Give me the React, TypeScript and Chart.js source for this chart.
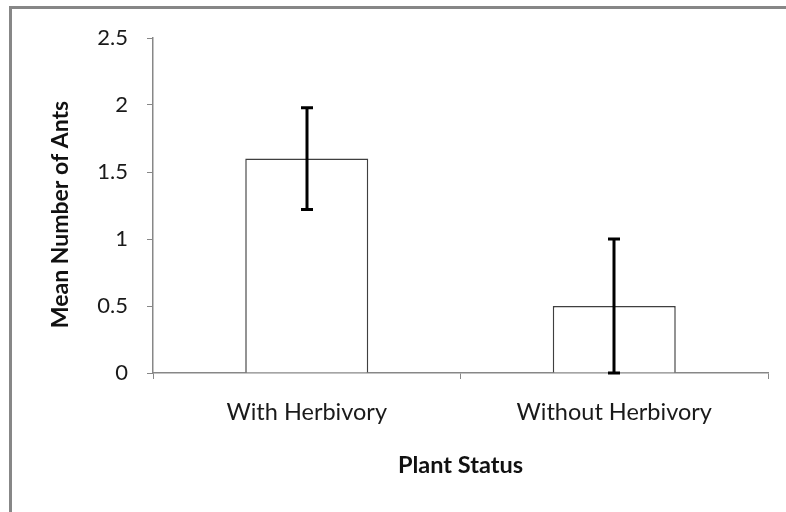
import React, { useEffect, useRef } from "react";
import { Chart, registerables } from "chart.js";

Chart.register(...registerables);

const categories = ["With Herbivory", "Without Herbivory"];
const meanAnts = [1.6, 0.5];
const errorAnts = [0.38, 0.5];
const yTicks = [0, 0.5, 1, 1.5, 2, 2.5];
const yTitle = "Mean Number of Ants";
const xTitle = "Plant Status";

const FONT = "Lato, 'DejaVu Sans', sans-serif";

const framePlugin = {
  id: "frame",
  beforeDraw(chart: any) {
    const ctx = chart.ctx;
    ctx.save();
    ctx.strokeStyle = "#878787";
    ctx.lineWidth = 3;
    ctx.beginPath();
    ctx.moveTo(10.5, 512);
    ctx.lineTo(10.5, 7.5);
    ctx.lineTo(786, 7.5);
    ctx.stroke();
    ctx.restore();
  },
  afterDraw(chart: any) {
    const ctx = chart.ctx;
    const area = chart.chartArea;
    ctx.save();
    ctx.fillStyle = "#111111";
    ctx.font = `bold 23px ${FONT}`;
    ctx.textAlign = "center";
    ctx.textBaseline = "middle";
    ctx.translate(61, (area.top + area.bottom) / 2 + 9);
    ctx.rotate(-Math.PI / 2);
    ctx.fillText(yTitle, 0, 0);
    ctx.restore();
  },
};

const errorBarPlugin = {
  id: "errorBars",
  afterDatasetsDraw(chart: any) {
    const ctx = chart.ctx;
    const meta = chart.getDatasetMeta(0);
    const y = chart.scales.y;
    ctx.save();
    ctx.strokeStyle = "#000000";
    ctx.lineWidth = 3;
    meta.data.forEach((bar: any, i: number) => {
      const x = Math.round(bar.x);
      const hi = y.getPixelForValue(meanAnts[i] + errorAnts[i]);
      const lo = y.getPixelForValue(Math.max(0, meanAnts[i] - errorAnts[i]));
      ctx.beginPath();
      ctx.moveTo(x, hi);
      ctx.lineTo(x, lo);
      ctx.moveTo(x - 6, hi);
      ctx.lineTo(x + 6, hi);
      ctx.moveTo(x - 6, lo);
      ctx.lineTo(x + 6, lo);
      ctx.stroke();
    });
    ctx.restore();
  },
};

export default function App() {
  const ref = useRef<HTMLCanvasElement | null>(null);
  useEffect(() => {
    if (!ref.current) return;
    const chart = new Chart(ref.current, {
      type: "bar",
      data: {
        labels: categories,
        datasets: [
          {
            data: meanAnts,
            backgroundColor: "#ffffff",
            borderColor: "#3f3f3f",
            borderWidth: 1.5,
            barPercentage: 0.4,
            categoryPercentage: 1,
          },
        ],
      },
      options: {
        responsive: false,
        animation: false,
        layout: { padding: { top: 38, right: 18, left: 0, bottom: 0 } },
        plugins: { legend: { display: false }, tooltip: { enabled: false } },
        scales: {
          x: {
            afterFit: (s: any) => {
              s.height = 139;
            },
            grid: {
              drawOnChartArea: false,
              drawTicks: true,
              tickLength: 6,
              color: "#878787",
              offset: true,
            },
            border: { display: true, color: "#878787", width: 1.5 },
            ticks: {
              color: "#1a1a1a",
              font: { family: FONT, size: 23.5 },
              padding: 19,
              maxRotation: 0,
            },
            title: {
              display: true,
              text: xTitle,
              color: "#111111",
              font: { family: FONT, size: 23.5, weight: "bold" },
              padding: { top: 0, bottom: 32 },
            },
          },
          y: {
            min: 0,
            max: 2.5,
            afterFit: (s: any) => {
              s.width = 153;
            },
            afterBuildTicks: (s: any) => {
              s.ticks = yTicks.map((v) => ({ value: v }));
            },
            grid: {
              drawOnChartArea: false,
              drawTicks: true,
              tickLength: 6,
              color: "#878787",
            },
            border: { display: true, color: "#878787", width: 1.5 },
            ticks: {
              color: "#1a1a1a",
              font: { family: FONT, size: 22 },
              padding: 19,
              callback: (v: any) => String(v),
            },
            title: { display: false },
          },
        },
      },
      plugins: [framePlugin, errorBarPlugin],
    });
    return () => chart.destroy();
  }, []);
  return (
    <div style={{ position: "fixed", left: 0, top: 0, width: 786, height: 512, background: "#fff" }}>
      <canvas ref={ref} width={786} height={512} style={{ display: "block" }} />
    </div>
  );
}
